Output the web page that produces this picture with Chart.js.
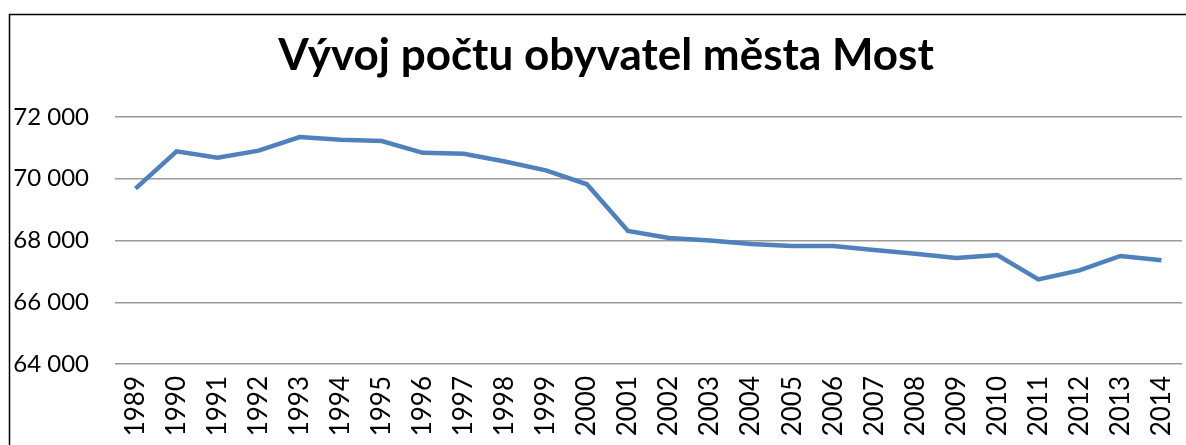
<!DOCTYPE html>
<html>
<head>
<meta charset="utf-8">
<script src="https://cdn.jsdelivr.net/npm/chart.js@4"></script>
<style>
  body { margin: 0; background: #fff; }
  #wrap { width: 1186px; height: 445px; }
</style>
</head>
<body>
<div id="wrap"><canvas id="myChart" width="1186" height="445"></canvas></div>
<script>
// pocet obyvatel, odhad z grafu
let years = ['1989','1990','1991','1992','1993','1994','1995','1996','1997','1998','1999','2000','2001',
  '2002','2003','2004','2005','2006','2007','2008','2009','2010','2011','2012','2013','2014'];
let population = [69680, 70890, 70680, 70910, 71350, 71260, 71220, 70840, 70810, 70560, 70270, 69820, 68310,
  68080, 68000, 67890, 67820, 67820, 67690, 67570, 67430, 67530, 66740, 67030, 67500, 67360];
let yTicks = [64000, 66000, 68000, 70000, 72000];
let chartTitle = 'Vývoj počtu obyvatel města Most';

function fmt(v) {
  var s = String(v);
  return s.slice(0, s.length - 3) + ' ' + s.slice(-3);
}

// ramecek grafu a nadpis (jako v Excelu, nadpis je vycentrovany na cely objekt grafu)
var frame = {
  id: 'frame',
  beforeDraw: function(chart) {
    var c = chart.ctx;
    c.save();
    c.strokeStyle = '#000';
    c.lineWidth = 1.5;
    c.beginPath();
    c.moveTo(9.5, 460);
    c.lineTo(9.5, 14.5);
    c.lineTo(1200, 14.5);
    c.stroke();
    c.fillStyle = '#000';
    c.font = 'bold 44px Lato';
    c.textAlign = 'center';
    c.textBaseline = 'alphabetic';
    c.fillText(chartTitle, 606, 70);
    c.restore();
  }
};

var ctx = document.getElementById('myChart').getContext('2d');
var myChart = new Chart(ctx, {
  type: 'line',
  data: {
    labels: years,
    datasets: [{
      data: population,
      borderColor: '#4F81BD',
      backgroundColor: '#4F81BD',
      borderWidth: 4.5,
      fill: false,
      tension: 0,
      pointRadius: 0
    }]
  },
  options: {
    responsive: false,
    animation: false,
    layout: { padding: { left: 0, right: 4, top: 117, bottom: 0 } },
    plugins: {
      legend: { display: false },
      tooltip: { enabled: false },
      title: { display: false }
    },
    scales: {
      x: {
        offset: true,
        grid: { display: false, drawTicks: false },
        border: { display: false },
        afterFit: function(scale) {
          scale.height = 81;
          scale.paddingLeft = 0;
          scale.paddingRight = 0;
        },
        ticks: {
          color: '#000',
          font: { family: 'Lato', size: 26 },
          minRotation: 90,
          maxRotation: 90,
          padding: 12,
          autoSkip: false
        }
      },
      y: {
        min: 64000,
        max: 72000,
        afterFit: function(scale) { scale.width = 115; },
        afterBuildTicks: function(scale) {
          scale.ticks = yTicks.map(function(v) { return { value: v }; });
        },
        grid: { color: '#999', lineWidth: 1.5, drawTicks: false },
        border: { display: false },
        ticks: {
          color: '#000',
          font: { family: 'Lato', size: 24 },
          padding: 26,
          callback: function(v) { return fmt(v); }
        }
      }
    }
  },
  plugins: [frame]
});
</script>
</body>
</html>
